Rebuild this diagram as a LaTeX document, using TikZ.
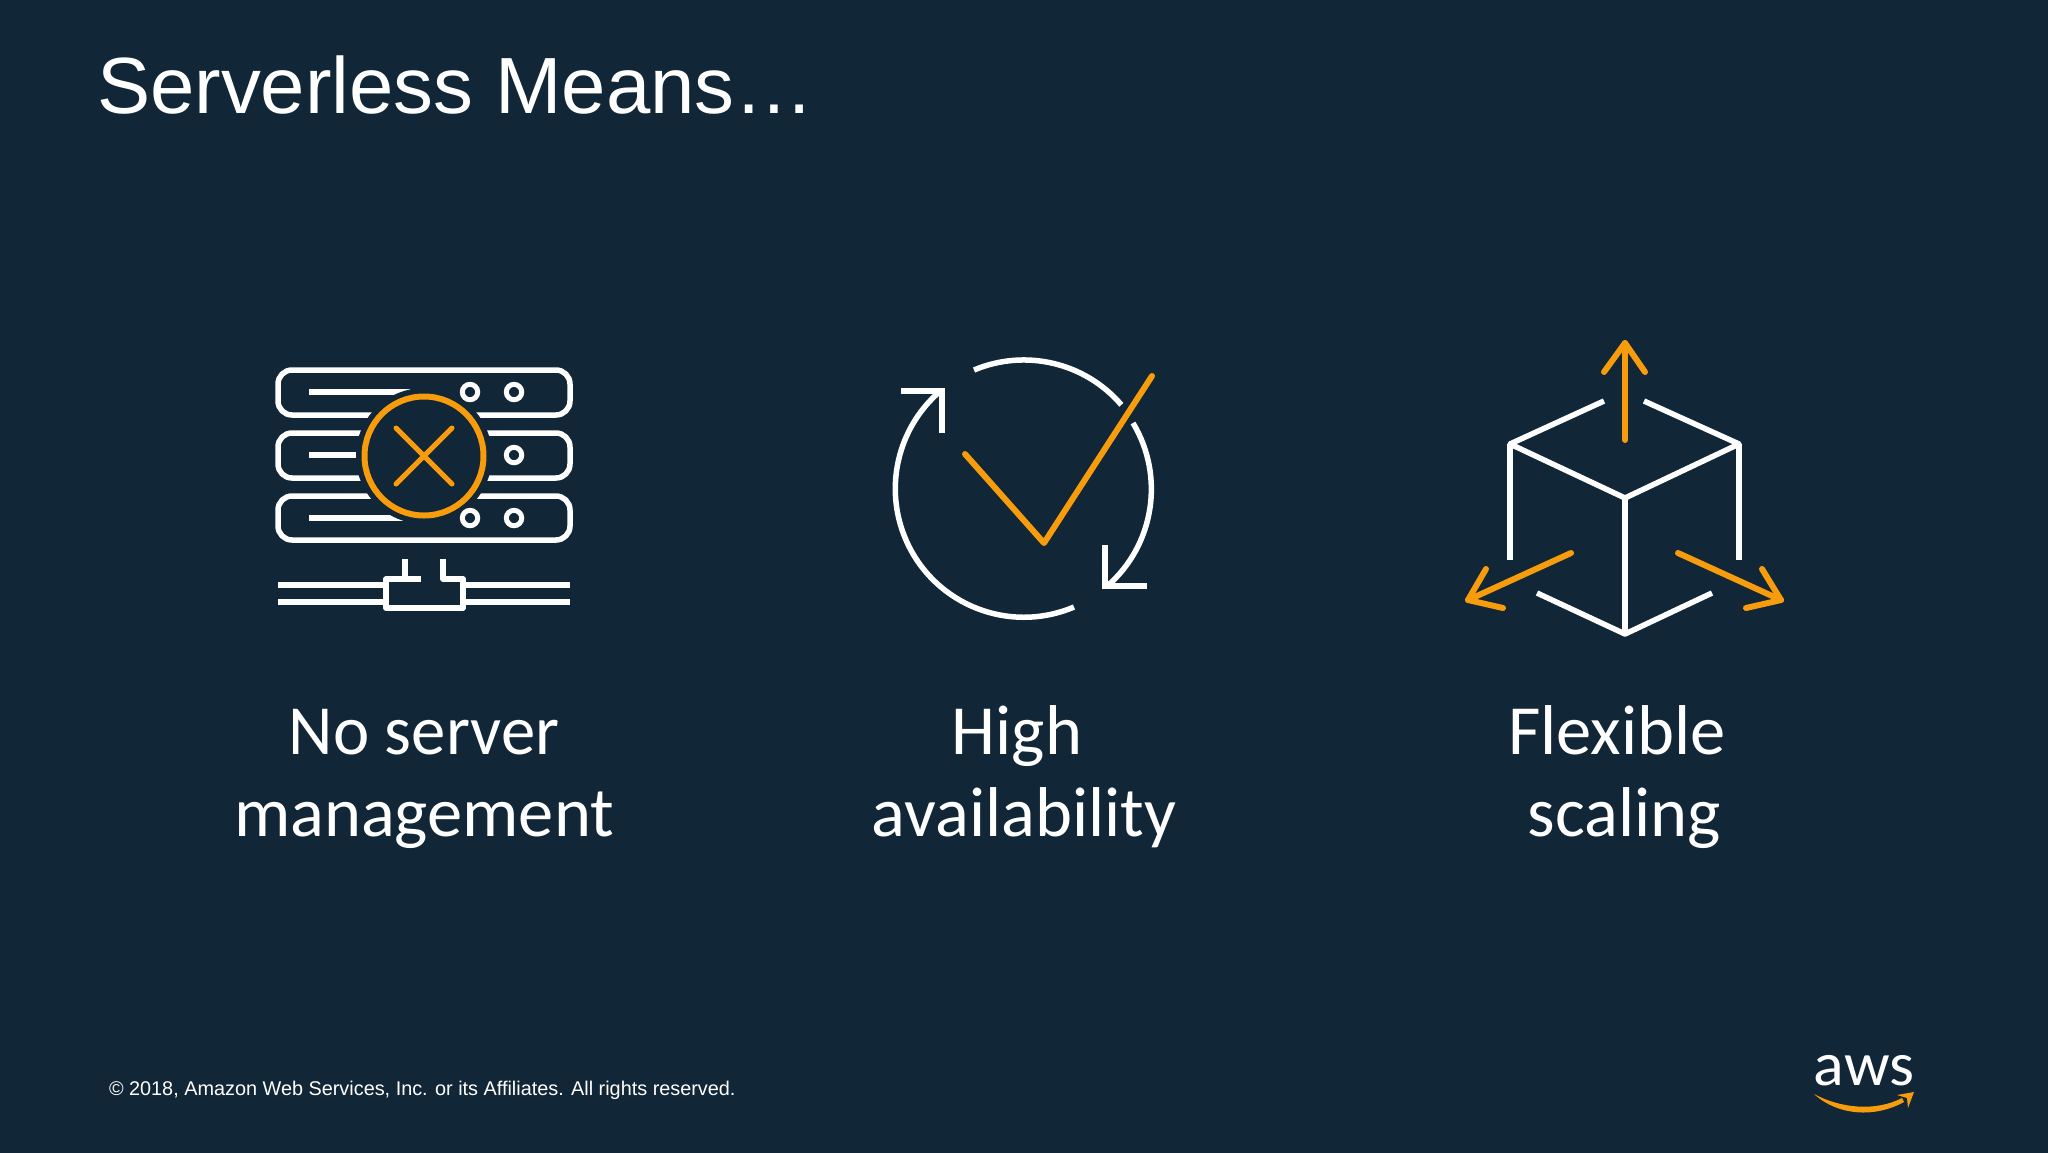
\documentclass[tikz,border=0pt]{standalone}
\usepackage{fontspec}
\setmainfont{Liberation Sans}
\newfontfamily\bodyfont{Carlito}
\definecolor{bgc}{HTML}{112636}
\definecolor{org}{HTML}{F79C0C}
\tikzset{
  wl/.style={draw=white,line width=5.5pt},
  ol/.style={draw=org,line width=6pt,line cap=round,line join=round},
  rack/.style={wl,rounded corners=14pt},
  hole/.style={wl,line width=5pt},
  txt/.style={inner sep=0pt,outer sep=0pt,text=white,anchor=base},
  bigl/.style={txt,font=\bodyfont\fontsize{70.5}{74}\selectfont},
}
\begin{document}
\begin{tikzpicture}[x=1pt,y=-1pt]
\useasboundingbox (0,0) rectangle (2048,1152);
\fill[bgc] (-5,-5) rectangle (2053,1157);
% title
\node[txt,anchor=base west,font=\fontsize{79.7}{84}\selectfont] (title) at (97,113) {Serverless Means…};
% server icon
\draw[rack] (278,370) rectangle (570,415);
\draw[rack] (278,433) rectangle (570,478);
\draw[rack] (278,496) rectangle (570,540);
\draw[wl,line width=6pt] (309,392) -- (410,392);
\draw[wl,line width=6pt] (309,455) -- (380,455);
\draw[wl,line width=6pt] (309,518) -- (410,518);
\fill[bgc] (424,456) circle (68);
\draw[hole] (470,392) circle (7.7);
\draw[hole] (514,392) circle (7.7);
\draw[hole] (514,455) circle (7.7);
\draw[hole] (470,518) circle (7.7);
\draw[hole] (514,518) circle (7.7);
\draw[ol] (424,456) circle (59.5);
\draw[ol,line width=5pt] (396,428) -- (452,484);
\draw[ol,line width=5pt] (452,428) -- (396,484);
\draw[wl] (278,585) -- (386,585);
\draw[wl] (278,602) -- (386,602);
\draw[wl] (463,585) -- (570,585);
\draw[wl] (463,602) -- (570,602);
\draw[wl,line join=round] (443,559) -- (443,579) -- (463,579) -- (463,608) -- (386,608) -- (386,579) -- (421,579);
\draw[wl] (405,559) -- (405,579);
\node[bigl,xscale=0.975] (l1a) at (424,754) {No server};
\node[bigl] (l1b) at (424,836) {management};
% availability icon
\draw[wl] (974,370) arc[start angle=-112.8,end angle=-40.6,radius=128.5];
\draw[wl] (1133,423) arc[start angle=-31,end angle=48.8,radius=128.5];
\draw[wl] (1074,607) arc[start angle=67,end angle=229,radius=128.5];
\draw[wl] (901,391) -- (942,391) -- (942,433);
\draw[wl] (1105,545) -- (1105,586) -- (1147,586);
\draw[ol] (965,454) -- (1044,543) -- (1152,376);
\node[bigl] (l2a) at (1017,754) {High};
\node[bigl] (l2b) at (1024,836) {availability};
% cube icon
\draw[wl,line join=round] (1604,401) -- (1510,444) -- (1625,498) -- (1739,444) -- (1644,401);
\draw[wl] (1510,444) -- (1510,560);
\draw[wl] (1739,444) -- (1739,560);
\draw[wl] (1625,498) -- (1625,634);
\draw[wl,line join=round] (1537,593) -- (1625,634) -- (1712,593);
\draw[ol] (1625,440) -- (1625,343);
\draw[ol] (1604,372) -- (1625,343) -- (1645,372);
\draw[ol] (1571,553) -- (1468,600);
\draw[ol] (1486,569) -- (1468,600) -- (1503,608);
\draw[ol] (1678,553) -- (1781,600);
\draw[ol] (1762,569) -- (1781,600) -- (1746,608);
\node[bigl] (l3a) at (1617,754) {Flexible};
\node[bigl] (l3b) at (1624,836) {scaling};
% footer
\node[txt,anchor=base west,font=\fontsize{19.85}{24}\selectfont] (foot) at (109,1095) {© 2018, Amazon Web Services, Inc. or its Affiliates. All rights reserved.};
% logo
\node[txt,font=\bodyfont\fontsize{62}{66}\selectfont,xscale=1.03] (aws) at (1864,1085) {aws};
\fill[org] (1814,1094) .. controls (1840,1108) and (1875,1112) .. (1902,1098) -- (1904,1102) .. controls (1875,1118) and (1838,1116) .. (1814,1094) -- cycle;
\fill[org] (1897,1095) -- (1914,1092) -- (1908,1108) -- (1907,1098) -- cycle;
\end{tikzpicture}
\end{document}
